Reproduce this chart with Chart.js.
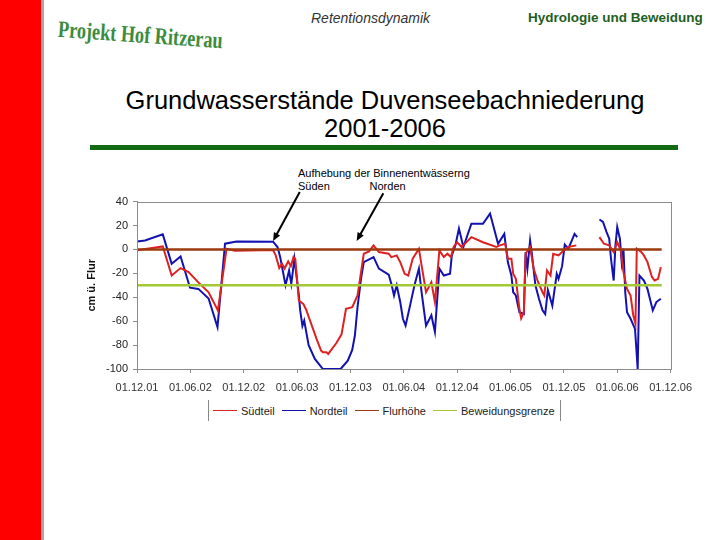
<!DOCTYPE html>
<html>
<head>
<meta charset="utf-8">
<script src="https://cdn.jsdelivr.net/npm/chart.js@4.4.1/dist/chart.umd.min.js"></script>
<style>
  body { margin: 0; background: #fff; font-family: Arial, "Liberation Sans", sans-serif; }
  #page { position: relative; width: 720px; height: 540px; overflow: hidden; background: #fff; }
  #redbar { position: absolute; left: 0; top: 0; width: 41px; height: 540px; background: #ff0000; }
  #greyline { position: absolute; left: 41px; top: 0; width: 3px; height: 540px; background: #a8a8a8; }
  #logo { position: absolute; left: 58px; top: 17px; font-family: "Liberation Serif", "DejaVu Serif", serif; font-weight: bold;
          font-size: 21px; color: #3d8c3d; transform: rotate(4deg) scaleX(0.87) scaleY(1.12); transform-origin: left center; white-space: nowrap; }
  #sub1 { position: absolute; left: 311px; top: 10px; font-size: 14px; font-style: italic; color: #333; }
  #sub2 { position: absolute; left: 528px; top: 10px; font-size: 13.5px; font-weight: bold; color: #1e5e1e; white-space: nowrap; }
  #title { position: absolute; left: 85px; width: 600px; top: 86px; text-align: center; font-size: 25.5px; line-height: 28px; color: #000; }
  #rule { position: absolute; left: 90px; top: 145px; width: 588px; height: 5px; background: #126a12; }
  #note { position: absolute; left: 298px; top: 167px; font-size: 11px; line-height: 13px; color: #000; }
  #chartbox { position: absolute; left: 80px; top: 190px; width: 620px; height: 210px; }
  #legend { position: absolute; left: 208px; top: 400px; width: 351px; height: 21px; border-left: 1px solid #888; border-right: 1px solid #888;
            display: flex; align-items: center; font-size: 11px; color: #222; }
  .item { display: flex; align-items: center; margin-left: 4px; margin-right: 3px; }
  .sample { width: 24px; height: 0; border-top: 1px solid; margin-right: 4px; }
</style>
</head>
<body>
<div id="page">
  <div id="redbar"></div>
  <div id="greyline"></div>
  <div id="logo">Projekt Hof Ritzerau</div>
  <div id="sub1">Retentionsdynamik</div>
  <div id="sub2">Hydrologie und Beweidung</div>
  <div id="title">Grundwasserstände Duvenseebachniederung<br>2001-2006</div>
  <div id="rule"></div>
  <div id="note">Aufhebung der Binnenentwässerng<br>Süden&nbsp;&nbsp;&nbsp;&nbsp;&nbsp;&nbsp;&nbsp;&nbsp;&nbsp;&nbsp;&nbsp;&nbsp;&nbsp;Norden</div>
  <div id="chartbox"><canvas id="chart"></canvas></div>
  <div id="legend"></div>
</div>
<script>
// Tick labels, one every 6 months starting 01.12.01
const tickLabels = ['01.12.01', '01.06.02', '01.12.02', '01.06.03', '01.12.03', '01.06.04',
                    '01.12.04', '01.06.05', '01.12.05', '01.06.06', '01.12.06'];

// Südteil: months since 01.12.01 and cm above ground (null = no data)
const suedMonate = [0, 2.9, 3.9, 4.9, 5.8, 6.95, 8.05, 9.1, 10.07, 11, 15.3, 15.6, 16.0, 16.3, 16.6, 17.0, 17.3, 17.6, 17.8,
  18.2, 18.7, 19.0, 20.2, 20.7, 20.9, 21.3, 21.5, 22.4, 23.0, 23.5, 24.2, 24.8, 25.5, 26.1, 26.6, 27.2, 28.3, 28.6, 29.2,
  29.6, 30.1, 30.5, 31.0, 31.7, 32.0, 32.5, 33.1, 33.5, 34.0, 34.5, 34.9, 35.3, 35.6, 36.0, 36.5, 37.6, 38.9, 40.4, 40.8,
  41.4, 41.7, 42.1, 42.3, 42.6, 43.0, 43.2, 43.5, 43.7, 44.2, 44.6, 45.1, 45.6, 45.8, 46.1, 46.5, 46.8, 47.4, 48.0, 48.5,
  49.4, 50.7, 52.0, 52.5, 53.1, 53.6, 54.0, 54.4, 54.7, 55.1, 55.5, 55.8, 56.05, 56.2, 56.7, 57.0, 57.4, 57.9, 58.2, 58.6, 58.9];
const suedWerte = [-0.6, 2.5, -21.8, -15.6, -19, -28, -35.8, -51, 0.6, -1, -0.5, -5, -15.5, -12, -16, -10, -14, -6.4, -8,
  -42.7, -45.5, -50, -75, -84.6, -86, -86, -87.4, -78.5, -71, -49.7, -48.3, -38.5, -3.6, -1.7, 3.4, -2.2, -3.6, -6.4, -5,
  -10.6, -20.4, -21.8, -7.8, 0.6, -13.4, -35.8, -27.4, -44, -0.8, -6.4, -3.6, -6.4, 2, 6, 2, 10.3, 6, 2, 3.4,
  4.8, -7.8, -7.8, -20.4, -24.6, -49.7, -57.6, -52.5, -3.6, 2, -16, -27.4, -35.8, -38.5, -17.6, -21.8, -3.6, -5, -0.8, 2,
  3.4, null, 10.3, 4.8, 3.4, -2.2, 6, -0.8, -19, -33, -38.5, -55, -62, 0.6, -2.2, -5, -10.6, -23, -26, -24.6, -14.8];

// Nordteil
const nordMonate = [0, 0.9, 2.9, 3.9, 4.9, 5.96, 6.9, 8.05, 9.05, 9.9, 11.2, 15.3, 15.8, 16.1, 16.7, 17.1, 17.35, 17.7,
  18.2, 18.35, 18.6, 18.8, 19.3, 20.0, 20.9, 22.9, 23.7, 24.2, 24.5, 24.8, 25.2, 25.5, 26.6, 27.2, 28.3, 28.6, 28.9, 29.2,
  29.6, 29.9, 30.2, 30.7, 31.2, 31.7, 32.0, 32.5, 33.1, 33.5, 34.0, 34.5, 35.2, 35.4, 35.8, 36.2, 36.7, 37.6, 38.9, 39.7,
  40.6, 41.3, 41.7, 42.1, 42.3, 42.6, 43.0, 43.5, 43.7, 43.9, 44.2, 44.4, 44.8, 45.2, 45.6, 45.9, 46.2, 46.7, 47.2, 47.4,
  47.8, 48.1, 48.5, 48.9, 49.2, 49.5, 50.7, 52.0, 52.4, 52.8, 53.1, 53.3, 53.6, 53.8, 54.0, 54.3, 54.5, 54.7, 54.9, 55.1,
  55.5, 56.0, 56.3, 56.5, 57.0, 57.4, 58.0, 58.4, 58.9];
const nordWerte = [6.7, 7.5, 12.6, -12, -5.9, -32, -33, -41, -65, 4.8, 6.7, 6.5, 2, -6.4, -30, -17.6, -28.8, -7.8,
  -38.5, -51, -64, -59.5, -80, -91.6, -100, -100, -93, -84, -72, -48, -24, -10.6, -6.4, -16, -21, -28.8, -38.5, -30,
  -44, -58, -63.7, -47, -30, -16, -35.8, -63.7, -55, -69, -16, -21.8, -20.4, -5, 3.4, 17.4, 2, 21.5, 21.5, 30,
  4.8, 13, -10.6, -21.8, -35.8, -38.5, -52.5, -54, -2.2, -16, 7.5, -3.6, -30, -41.3, -51, -54, -34, -47, -20.4, -24.6,
  -14, 4, 0.6, 7.5, 13, 10.3, null, 25, 23, 14.5, 9, -7.8, -26, 3.4, 18.7, 9, -10.6, 0.6, -35.8, -52.5,
  -58, -66.5, -100, -21.8, -26, -33, -51, -44, -41.3];

// Reference levels (start / end month, level)
const flurMonate = [0, 59];
const flurWerte = [0, 0];
const grenzeMonate = [0, 59];
const grenzeWerte = [-30, -30];

// Annotation arrows in data units: [tailMonth, tailValue, tipMonth, tipValue]
const pfeile = [[18.3, 48, 15.3, 7], [27.7, 47, 24.7, 7]];

const seriesNames = ['Südteil', 'Nordteil', 'Flurhöhe', 'Beweidungsgrenze'];
const seriesColors = ['#dd2222', '#1212b0', '#9a3a0e', '#a2c836'];

function toPoints(xs, ys) {
  return xs.map((x, i) => ({ x: x, y: ys[i] }));
}

Chart.defaults.font.family = 'Arial, "Liberation Sans", sans-serif';
Chart.defaults.color = '#222';

const framePlugin = {
  id: 'frame',
  afterDraw(chart) {
    const ctx = chart.ctx;
    const a = chart.chartArea;
    const xs = chart.scales.x, ys = chart.scales.y;
    ctx.save();
    ctx.strokeStyle = '#8c8c8c';
    ctx.lineWidth = 1;
    ctx.strokeRect(Math.round(a.left) + 0.5, Math.round(a.top) + 0.5, Math.round(a.right - a.left), Math.round(a.bottom - a.top));
    // arrows
    ctx.strokeStyle = '#000';
    ctx.fillStyle = '#000';
    ctx.lineWidth = 2;
    pfeile.forEach(p => {
      const x1 = xs.getPixelForValue(p[0]), y1 = ys.getPixelForValue(p[1]);
      const x2 = xs.getPixelForValue(p[2]), y2 = ys.getPixelForValue(p[3]);
      const ang = Math.atan2(y2 - y1, x2 - x1);
      const len = 9;
      ctx.beginPath();
      ctx.moveTo(x1, y1);
      ctx.lineTo(x2 - Math.cos(ang) * 6, y2 - Math.sin(ang) * 6);
      ctx.stroke();
      ctx.beginPath();
      ctx.moveTo(x2, y2);
      ctx.lineTo(x2 - len * Math.cos(ang - 0.4), y2 - len * Math.sin(ang - 0.4));
      ctx.lineTo(x2 - len * Math.cos(ang + 0.4), y2 - len * Math.sin(ang + 0.4));
      ctx.closePath();
      ctx.fill();
    });
    ctx.restore();
  }
};

new Chart(document.getElementById('chart'), {
  type: 'line',
  data: {
    datasets: [
      { label: seriesNames[0], data: toPoints(suedMonate, suedWerte), borderColor: seriesColors[0], borderWidth: 2, order: 2 },
      { label: seriesNames[1], data: toPoints(nordMonate, nordWerte), borderColor: seriesColors[1], borderWidth: 2, order: 3 },
      { label: seriesNames[2], data: toPoints(flurMonate, flurWerte), borderColor: seriesColors[2], borderWidth: 2.5, order: 1 },
      { label: seriesNames[3], data: toPoints(grenzeMonate, grenzeWerte), borderColor: seriesColors[3], borderWidth: 2.5, order: 0 }
    ]
  },
  options: {
    responsive: true,
    maintainAspectRatio: false,
    animation: false,
    spanGaps: false,
    elements: { point: { radius: 0 }, line: { tension: 0 } },
    layout: { padding: { top: 11, right: 19, left: 0, bottom: 0 } },
    plugins: { legend: { display: false }, tooltip: { enabled: false } },
    scales: {
      x: {
        type: 'linear',
        min: 0, max: 60,
        afterFit(scale) { scale.height = 31; },
        grid: { drawOnChartArea: false, drawTicks: true, tickLength: 4, color: '#8c8c8c' },
        border: { color: '#8c8c8c' },
        ticks: {
          stepSize: 6, padding: 8, maxRotation: 0, autoSkip: false,
          font: { size: 11 }, color: '#333',
          callback: v => tickLabels[Math.round(v / 6)]
        }
      },
      y: {
        min: -100, max: 40,
        afterFit(scale) { scale.width = 57; },
        grid: { drawOnChartArea: false, drawTicks: true, tickLength: 4, color: '#8c8c8c' },
        border: { color: '#8c8c8c' },
        ticks: { stepSize: 20, padding: 5, font: { size: 11 }, color: '#222' },
        title: { display: true, text: 'cm ü. Flur', font: { size: 11, weight: 'bold' }, color: '#111', padding: { top: 5, bottom: 0 } }
      }
    }
  },
  plugins: [framePlugin]
});

// legend built from the series names/colours
const legend = document.getElementById('legend');
seriesNames.forEach((name, i) => {
  const item = document.createElement('div');
  item.className = 'item';
  const s = document.createElement('span');
  s.className = 'sample';
  s.style.borderTopColor = seriesColors[i];
  item.appendChild(s);
  item.appendChild(document.createTextNode(name));
  legend.appendChild(item);
});
</script>
</body>
</html>
